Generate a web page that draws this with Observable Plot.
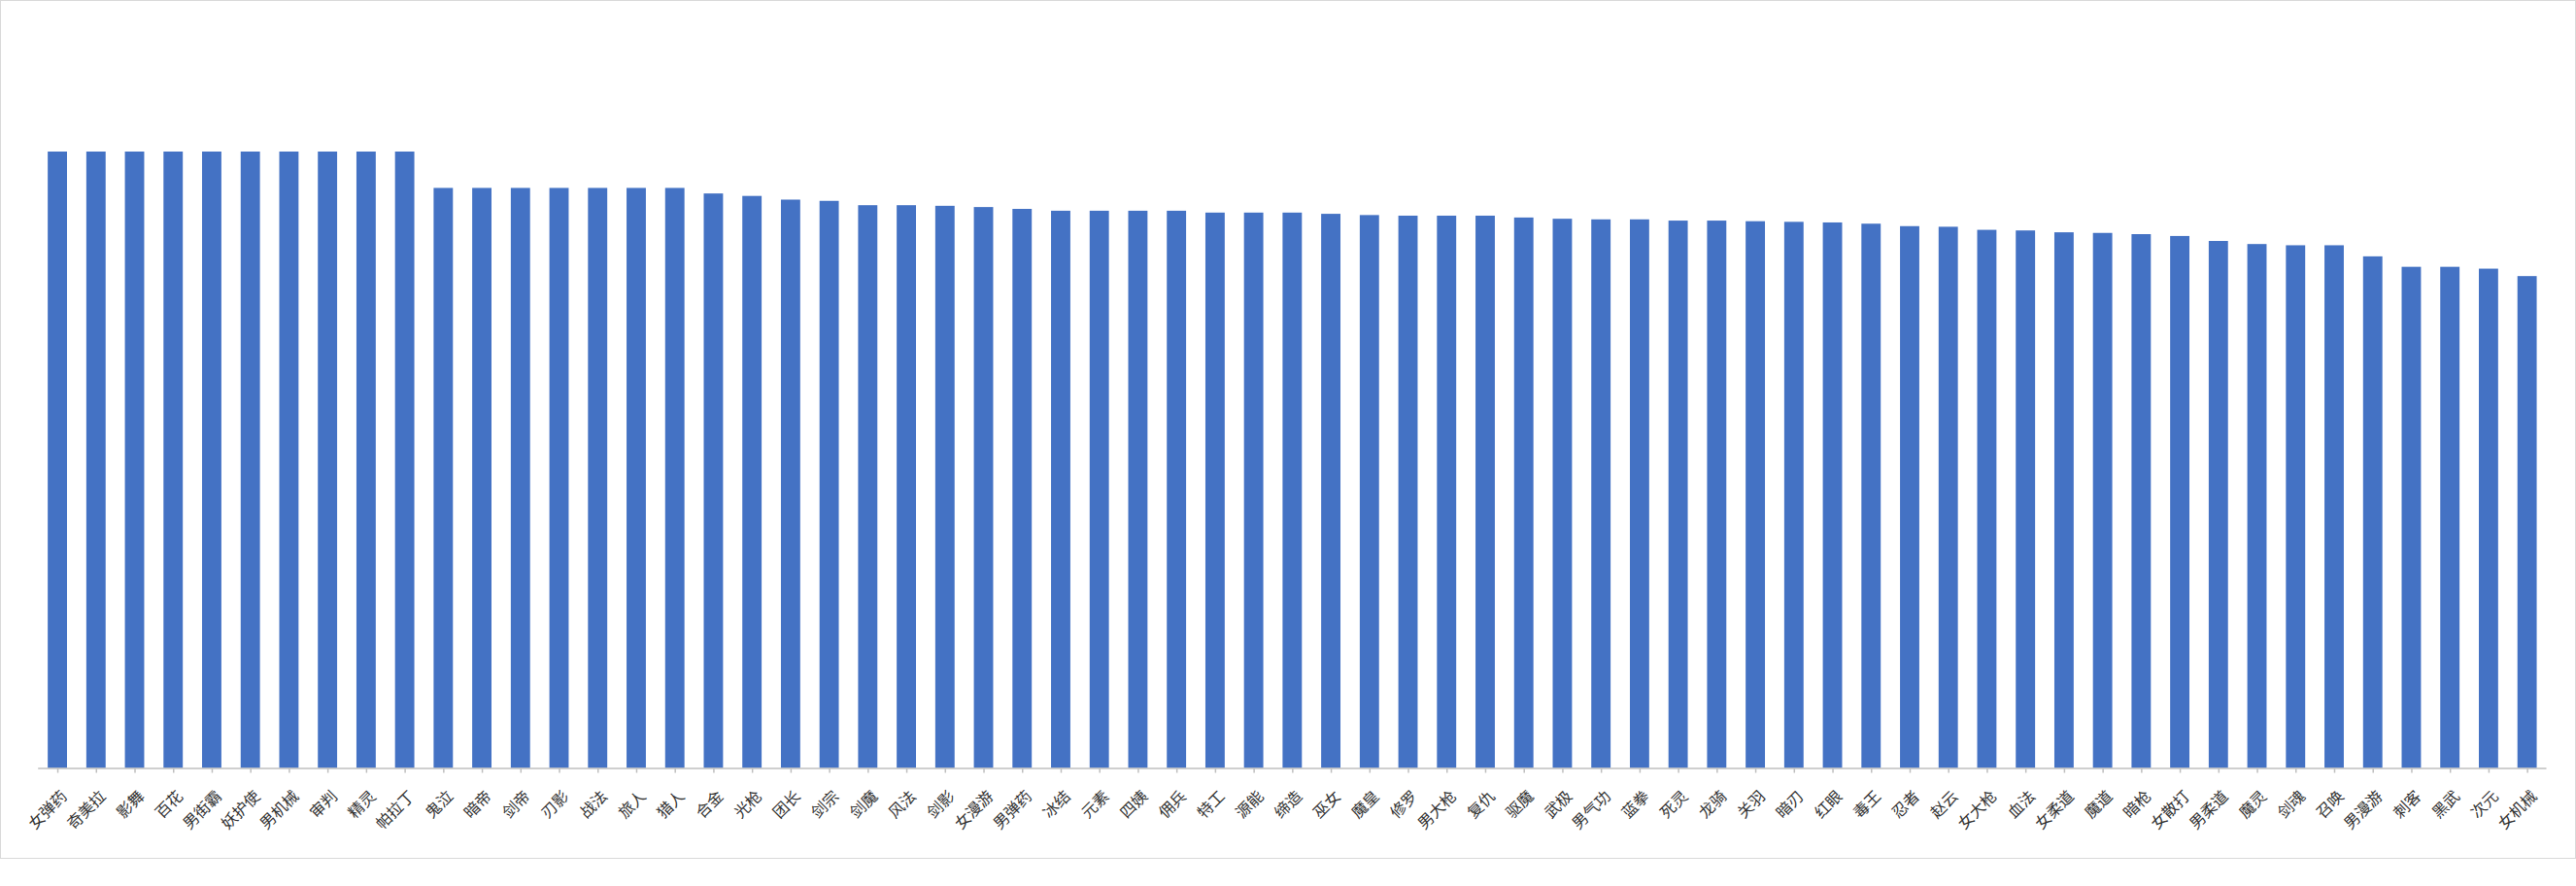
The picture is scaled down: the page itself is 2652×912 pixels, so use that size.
<!DOCTYPE html>
<html>
<head>
<meta charset="utf-8">
<script src="https://cdn.jsdelivr.net/npm/d3@7"></script>
<script src="https://cdn.jsdelivr.net/npm/@observablehq/plot@0.6"></script>
<style>
  html, body { margin: 0; padding: 0; background: #ffffff; }
  #chart svg { display: block; border: 1px solid #d9d9d9; }
</style>
</head>
<body>
<div id="chart"></div>
<script>
const categories = [
  "女弹药","奇美拉","影舞","百花","男街霸","妖护使","男机械","审判","精灵","帕拉丁",
  "鬼泣","暗帝","剑帝","刃影","战法","旅人","猎人","合金","光枪","团长",
  "剑宗","剑魔","风法","剑影","女漫游","男弹药","冰结","元素","四姨","佣兵",
  "特工","源能","缔造","巫女","魔皇","修罗","男大枪","复仇","驱魔","武极",
  "男气功","蓝拳","死灵","龙骑","关羽","暗刃","红眼","毒王","忍者","赵云",
  "女大枪","血法","女柔道","魔道","暗枪","女散打","男柔道","魔灵","剑魂","召唤",
  "男漫游","刺客","黑武","次元","女机械"
];
const values = [
  100,100,100,100,100,100,100,100,100,100,
  94.1,94.1,94.1,94.1,94.1,94.1,94.1,93.2,92.8,92.2,
  92.0,91.3,91.3,91.2,91.0,90.7,90.4,90.4,90.4,90.4,
  90.1,90.1,90.1,89.9,89.7,89.6,89.6,89.6,89.3,89.1,
  89.0,89.0,88.8,88.8,88.7,88.6,88.5,88.3,87.9,87.8,
  87.3,87.2,86.9,86.8,86.6,86.3,85.5,85.0,84.8,84.8,
  83.0,81.3,81.3,81.0,79.8
];

const data = categories.map((name, i) => ({name, value: values[i]}));

const chart = Plot.plot({
  width: 2650,
  height: 882,
  marginLeft: 38.2,
  marginRight: 29.5,
  marginTop: 155,
  marginBottom: 92.5,
  style: {fontFamily: "'Noto Sans CJK SC', 'Noto Sans', sans-serif", background: "#ffffff"},
  x: {domain: categories, paddingInner: 0.5, paddingOuter: 0.25, align: 0.5, label: null},
  y: {domain: [0, 100], nice: false, axis: null},
  marks: [
    Plot.barY(data, {x: "name", y: "value", fill: "#4472C4"}),
    Plot.ruleY([0], {stroke: "#bfbfbf", strokeWidth: 1.5}),
    Plot.axisX({tickSize: 5, fill: "none", stroke: "#bfbfbf", strokeWidth: 1.5, label: null}),
    Plot.text(categories, {
      x: d => d,
      frameAnchor: "bottom",
      rotate: -45,
      textAnchor: "end",
      lineAnchor: "middle",
      dx: 7,
      dy: 26,
      fontSize: 16,
      fill: "#333333"
    })
  ]
});
document.getElementById("chart").appendChild(chart);
</script>
</body>
</html>
